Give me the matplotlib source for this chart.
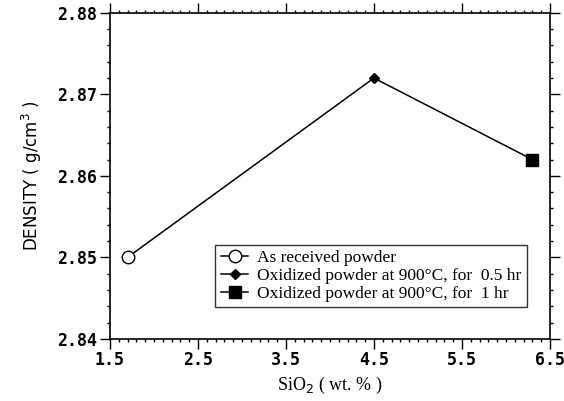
import matplotlib
matplotlib.use('Agg')
import matplotlib.pyplot as plt
from matplotlib.ticker import MultipleLocator, FormatStrFormatter

# ==========================
# Datos
# ==========================
sio2 = [1.7, 4.5, 6.3]
densidad = [2.850, 2.872, 2.862]
etiquetas = ['As received powder',
             'Oxidized powder at 900°C, for  0.5 hr',
             'Oxidized powder at 900°C, for  1 hr']
marcadores = ['o', 'D', 's']
rellenos = ['white', 'black', 'black']
tamanos = [9, 5.5, 8.5]
xticks = [1.5, 2.5, 3.5, 4.5, 5.5, 6.5]
yticks = [2.84, 2.85, 2.86, 2.87, 2.88]

# ==========================
# Gráfico
# ==========================
fig = plt.figure(figsize=(5.64, 4.01), dpi=100)
ax = fig.add_axes([0.195, 0.155, 0.78, 0.813])

ax.plot(sio2, densidad, color='black', lw=1.1, zorder=2)
for x, y, m, fc, ms, lab in zip(sio2, densidad, marcadores, rellenos, tamanos, etiquetas):
    ax.plot([x], [y], color='black', lw=1.1, marker=m, markerfacecolor=fc,
            markeredgecolor='black', markersize=ms, label=lab, zorder=3)

ax.set_xlim(1.5, 6.5)
ax.set_ylim(2.84, 2.88)
ax.set_xticks(xticks)
ax.set_yticks(yticks)
ax.xaxis.set_minor_locator(MultipleLocator(0.1))
ax.yaxis.set_minor_locator(MultipleLocator(0.002))
ax.xaxis.set_major_formatter(FormatStrFormatter('%.1f'))
ax.yaxis.set_major_formatter(FormatStrFormatter('%.2f'))

ax.tick_params(which='both', direction='out', top=True, right=True, width=1)
ax.tick_params(which='major', length=7, pad=2)
ax.tick_params(which='minor', length=2.5)
for lab in ax.get_xticklabels() + ax.get_yticklabels():
    lab.set_fontfamily('DejaVu Sans Mono')
    lab.set_fontweight('bold')
    lab.set_fontsize(12)
for s in ax.spines.values():
    s.set_linewidth(1.2)

ax.set_ylabel('DENSITY ( g/cm$^3$ )', fontsize=12, family='DejaVu Sans', labelpad=10)
ax.set_xlabel('SiO$_2$ ( wt. % )', fontsize=13, family='Liberation Serif', labelpad=4)

leg = ax.legend(loc='upper left', bbox_to_anchor=(0.22, 0.315),
                prop={'family': 'Liberation Serif', 'size': 12.5},
                handlelength=1.6, handletextpad=0.5, labelspacing=0.1,
                borderpad=0.3, fancybox=False, frameon=True)
leg.get_frame().set_edgecolor('black')
leg.get_frame().set_linewidth(1.0)

plt.savefig('out.png', dpi=100)
